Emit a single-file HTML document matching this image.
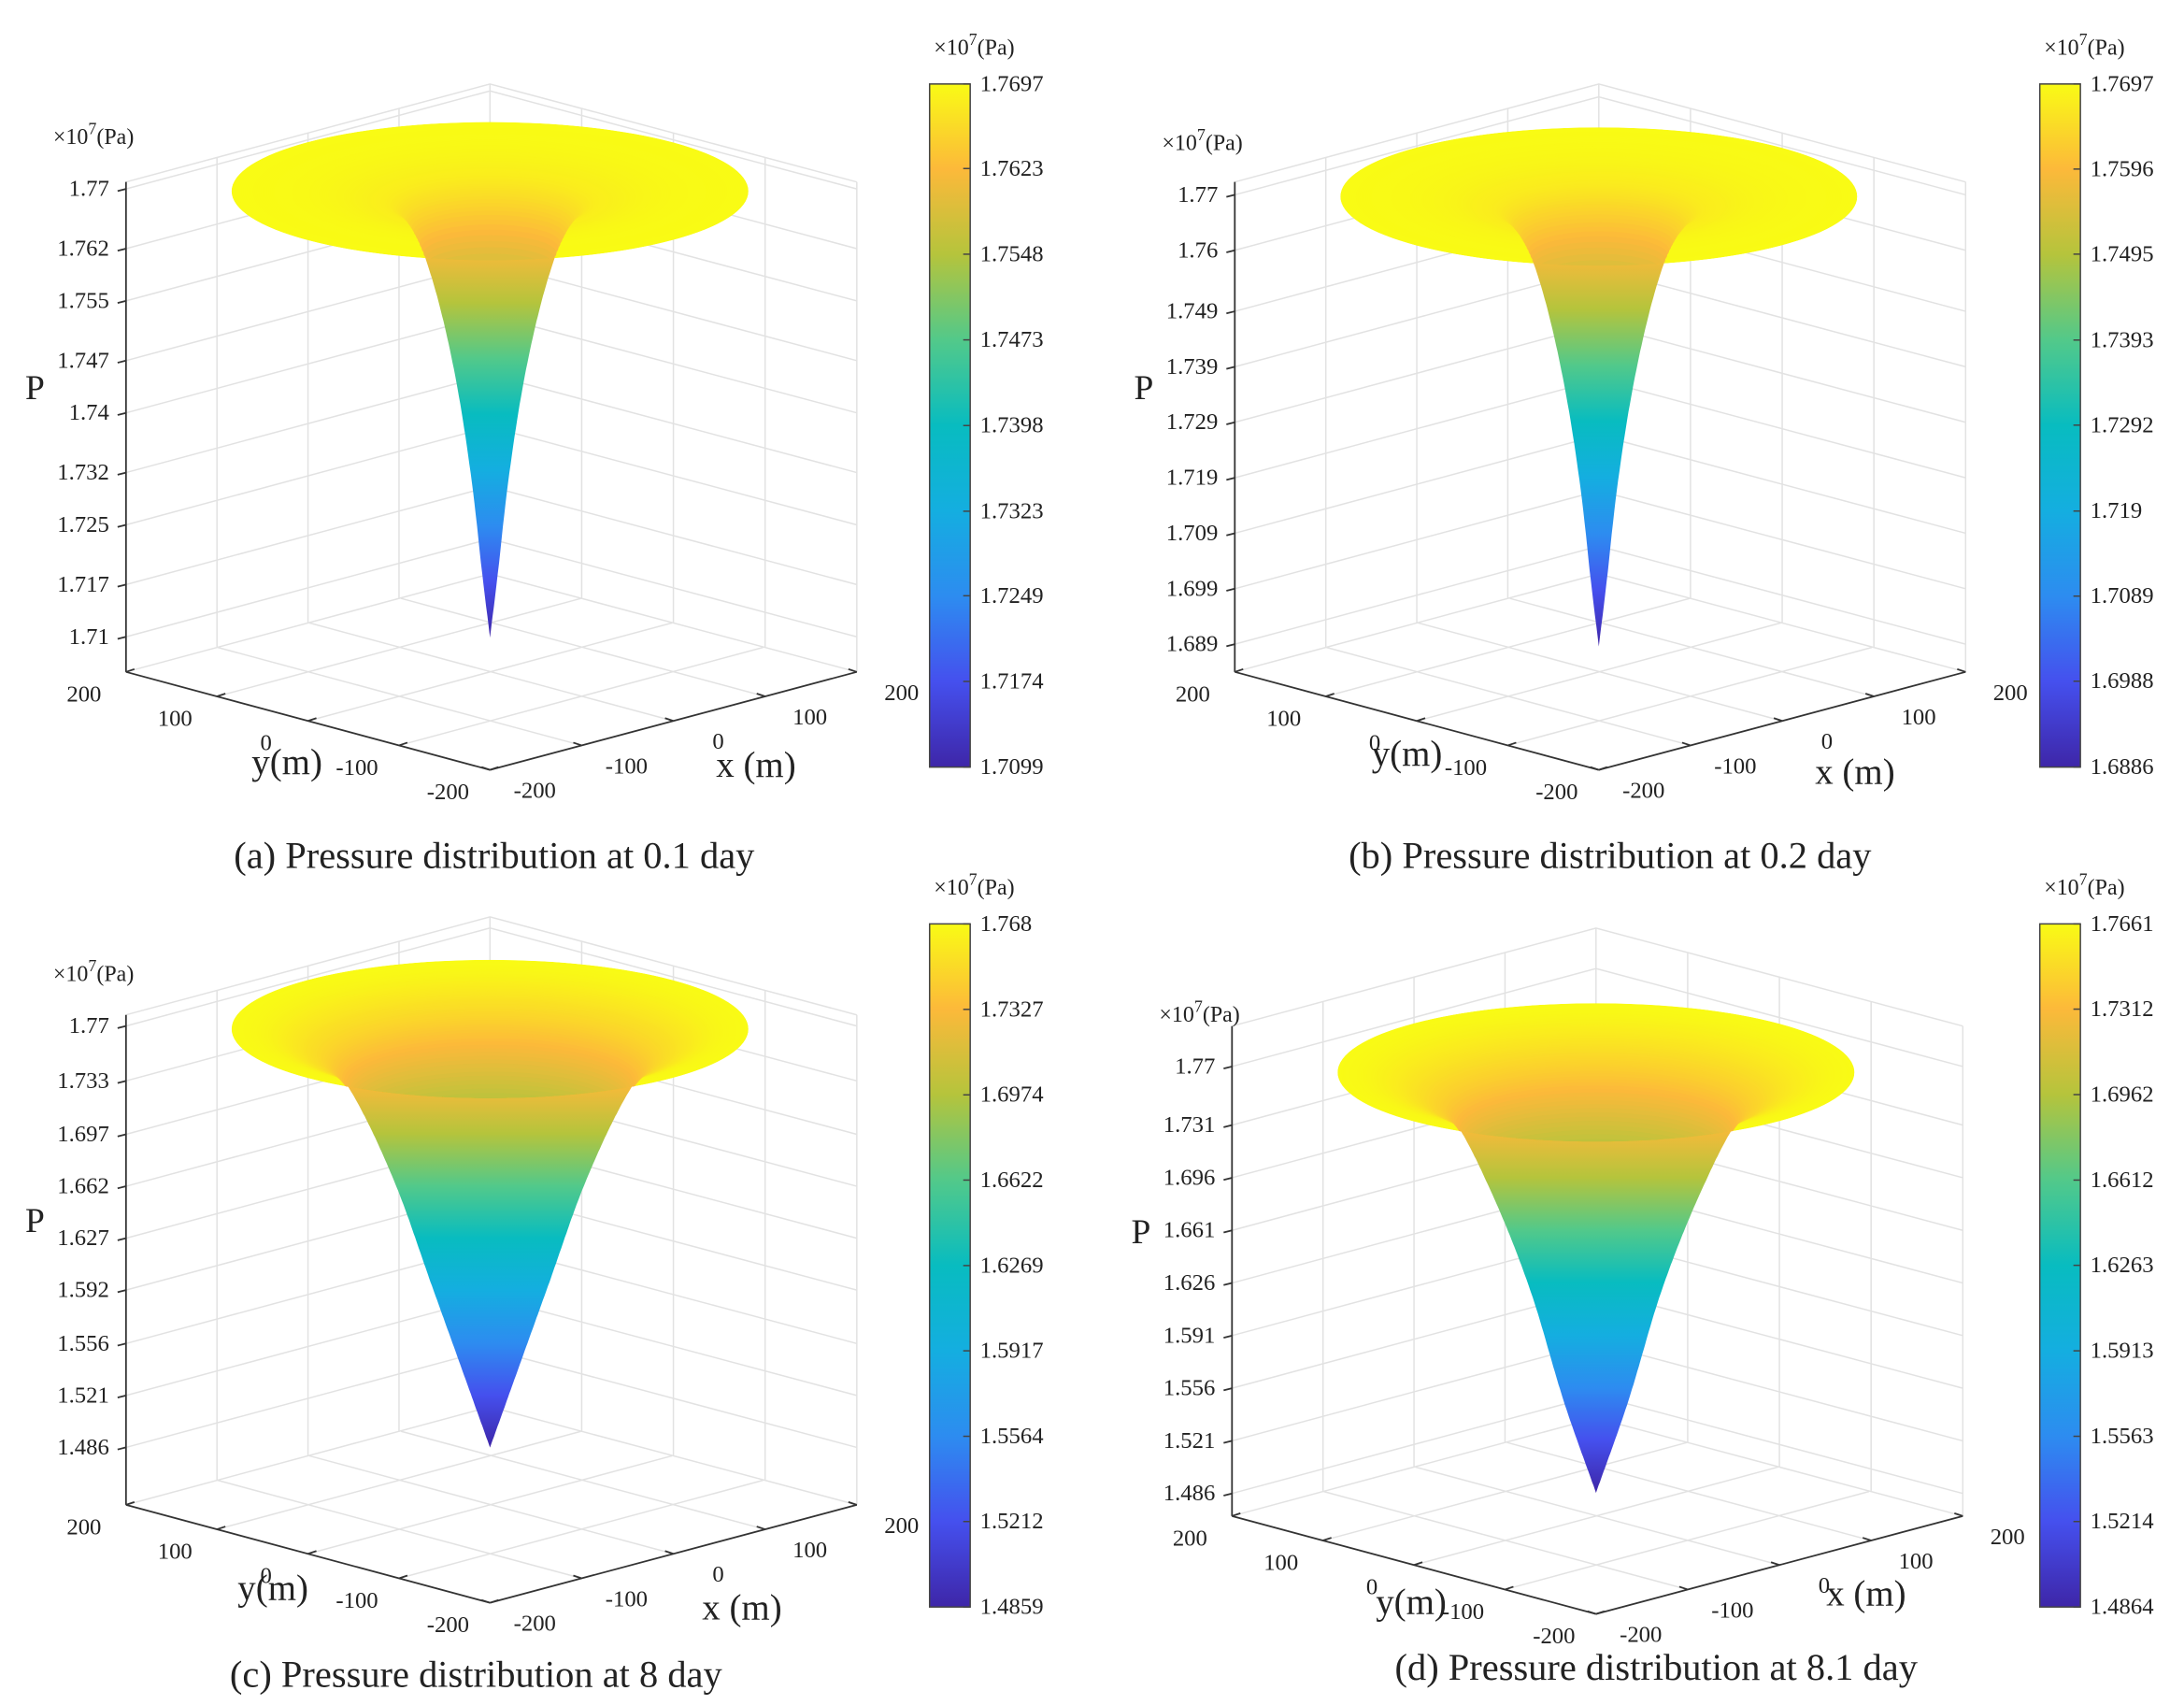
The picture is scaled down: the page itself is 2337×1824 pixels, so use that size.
<!DOCTYPE html>
<html><head><meta charset="utf-8">
<style>
html,body{margin:0;padding:0;background:#fff;}
svg{display:block;font-family:"Liberation Serif",serif;}
</style></head>
<body>
<svg id="fig" width="2337" height="1824" viewBox="0 0 1560 1218" preserveAspectRatio="none" xmlns="http://www.w3.org/2000/svg"></svg>
<script>
// ---- data ----
const captions = ["(a) Pressure distribution at 0.1 day","(b) Pressure distribution at 0.2 day","(c) Pressure distribution at 8 day","(d) Pressure distribution at 8.1 day"];
const zTicksA = [1.77,1.762,1.755,1.747,1.74,1.732,1.725,1.717,1.71];
const zTicksB = [1.77,1.76,1.749,1.739,1.729,1.719,1.709,1.699,1.689];
const zTicksC = [1.77,1.733,1.697,1.662,1.627,1.592,1.556,1.521,1.486];
const zTicksD = [1.77,1.731,1.696,1.661,1.626,1.591,1.556,1.521,1.486];
const cbTicksA = [1.7697,1.7623,1.7548,1.7473,1.7398,1.7323,1.7249,1.7174,1.7099];
const cbTicksB = [1.7697,1.7596,1.7495,1.7393,1.7292,1.719,1.7089,1.6988,1.6886];
const cbTicksC = [1.768,1.7327,1.6974,1.6622,1.6269,1.5917,1.5564,1.5212,1.4859];
const cbTicksD = [1.7661,1.7312,1.6962,1.6612,1.6263,1.5913,1.5563,1.5214,1.4864];
const radiusA = [0,6,13,26,49,70,100,140,200];
const pressA  = [1.7099,1.7184,1.7293,1.7441,1.7602,1.7670,1.7686,1.7694,1.7697];
const radiusB = [0,6,13,26,49,70,100,140,200];
const pressB  = [1.6886,1.7001,1.7150,1.7348,1.7567,1.7656,1.7681,1.7692,1.7697];
const radiusC = [0,30,45,73,109,125,150,175,200];
const pressC  = [1.4859,1.5587,1.595,1.663,1.728,1.745,1.757,1.765,1.768];
const radiusD = [0,25,50,83,112,130,155,180,200];
const pressD  = [1.4864,1.5475,1.619,1.6902,1.7366,1.748,1.758,1.764,1.7661];
const xyTicks = [200,100,0,-100,-200];

// ---- layout (not data) ----
const panels = [
 {cx:350, baseY:480, zFloor:1.7053, kz:5333, zt:zTicksA, cb:cbTicksA, r:radiusA, p:pressA, cbx:664, cby:60, cap:[353,620], yl:[205,553], xl:[540,555]},
 {cx:1142, baseY:480, zFloor:1.684, kz:3963, zt:zTicksB, cb:cbTicksB, r:radiusB, p:pressB, cbx:1457, cby:60, cap:[1150,620], yl:[1005,547], xl:[1325,560]},
 {cx:350, baseY:1075, zFloor:1.4473, kz:1060, zt:zTicksC, cb:cbTicksC, r:radiusC, p:pressC, cbx:664, cby:660, cap:[340,1205], yl:[195,1143], xl:[530,1157]},
 {cx:1140, baseY:1083, zFloor:1.471, kz:1074, zt:zTicksD, cb:cbTicksD, r:radiusD, p:pressD, cbx:1457, cby:660, cap:[1183,1200], yl:[1008,1153], xl:[1333,1147]}
];
const parula = [[0,"#3e26a8"],[0.125,"#4550ee"],[0.25,"#2d8cf0"],[0.375,"#14aee0"],[0.5,"#08bcc0"],[0.625,"#52c98a"],[0.75,"#b5c43c"],[0.875,"#fcb93a"],[1,"#f9fb15"]];
function hex(h){return [1,3,5].map(i=>parseInt(h.substr(i,2),16));}
function pcol(t){t=Math.max(0,Math.min(1,t));for(let i=1;i<parula.length;i++){if(t<=parula[i][0]){const a=parula[i-1],b=parula[i];const f=(t-a[0])/(b[0]-a[0]);const ca=hex(a[1]),cb=hex(b[1]);return "rgb("+ca.map((v,k)=>Math.round(v+(cb[k]-v)*f)).join(",")+")";}}return parula[parula.length-1][1];}

const NS="http://www.w3.org/2000/svg";
const svg=document.getElementById('fig');
function el(tag,attrs,parent){const e=document.createElementNS(NS,tag);for(const k in attrs)e.setAttribute(k,attrs[k]);(parent||svg).appendChild(e);return e;}
const defs=el('defs',{});
function txt(x,y,s,size,anchor,parent){const t=el('text',{x:x,y:y,'font-size':size,'text-anchor':anchor||'middle',fill:'#222'},parent);t.textContent=s;return t;}
function makeInterp(xs,ys){
  const n=xs.length,d=[],m=new Array(n);
  for(let i=0;i<n-1;i++)d.push((ys[i+1]-ys[i])/(xs[i+1]-xs[i]));
  m[0]=d[0];m[n-1]=d[n-2];
  for(let i=1;i<n-1;i++){m[i]=(d[i-1]*d[i]<=0)?0:(d[i-1]+d[i])/2;}
  for(let i=0;i<n-1;i++){if(d[i]===0){m[i]=m[i+1]=0;continue;}const a=m[i]/d[i],b=m[i+1]/d[i],s=a*a+b*b;if(s>9){const t=3/Math.sqrt(s);m[i]=t*a*d[i];m[i+1]=t*b*d[i];}}
  return x=>{let i=0;while(i<n-2&&x>xs[i+1])i++;const h=xs[i+1]-xs[i],t=(x-xs[i])/h,t2=t*t,t3=t2*t;
    return (2*t3-3*t2+1)*ys[i]+(t3-2*t2+t)*h*m[i]+(-2*t3+3*t2)*ys[i+1]+(t3-t2)*h*m[i+1];};
}

panels.forEach((P,pi)=>{
  const g=el('g',{});
  
  
  const cbMax=P.cb[0], cbMin=P.cb[P.cb.length-1];
  const zy=p=>P.baseY-(p-P.zFloor)*P.kz;
  const L=[P.cx-260,P.baseY],R=[P.cx+262,P.baseY],F=[P.cx,P.baseY+70],B=[P.cx,P.baseY-70];
  const H=350;
  const lerp=(a,b,t)=>[a[0]+(b[0]-a[0])*t,a[1]+(b[1]-a[1])*t];
  const grid=el('g',{stroke:'#e2e2e2','stroke-width':1,fill:'none'},g);
  
  
  P.zt.forEach(v=>{const dy=P.baseY-zy(v);
    el('polyline',{points:`${L[0]},${L[1]-dy} ${B[0]},${B[1]-dy} ${R[0]},${R[1]-dy}`},grid);});
  [0.25,0.5,0.75].forEach(t=>{
    const a=lerp(L,B,t),b=lerp(B,R,t);
    el('line',{x1:a[0],y1:a[1],x2:a[0],y2:a[1]-H},grid);
    el('line',{x1:b[0],y1:b[1],x2:b[0],y2:b[1]-H},grid);
    const c=lerp(L,F,t),d=lerp(F,R,t);
    el('line',{x1:c[0],y1:c[1],x2:c[0]+(B[0]-L[0]),y2:c[1]+(B[1]-L[1])},grid);
    el('line',{x1:d[0],y1:d[1],x2:d[0]-(F[0]-L[0]),y2:d[1]-(F[1]-L[1])},grid);
  });
  el('polyline',{points:`${L[0]},${L[1]-H} ${B[0]},${B[1]-H} ${R[0]},${R[1]-H}`},grid);
  el('line',{x1:B[0],y1:B[1],x2:B[0],y2:B[1]-H},grid);
  el('line',{x1:R[0],y1:R[1],x2:R[0],y2:R[1]-H},grid);
  el('polyline',{points:`${L[0]},${L[1]} ${B[0]},${B[1]} ${R[0]},${R[1]}`},grid);
  const ax=el('g',{stroke:'#333','stroke-width':1.2,fill:'none'},g);
  
  
  el('line',{x1:L[0],y1:L[1],x2:L[0],y2:L[1]-H},ax);
  el('line',{x1:L[0],y1:L[1],x2:F[0],y2:F[1]},ax);
  el('line',{x1:F[0],y1:F[1],x2:R[0],y2:R[1]},ax);
  P.zt.forEach(v=>{const y=zy(v);el('line',{x1:L[0]-6,y1:y+1.5,x2:L[0],y2:y},ax);
    const t=txt(L[0]-12,y+5,String(v),16.5,'end',g);
    
    });
  xyTicks.forEach((v,i)=>{const t=i/4;
    const a=lerp(L,F,t);el('line',{x1:a[0],y1:a[1],x2:a[0]+6,y2:a[1]-2},ax);
    const ty=txt(a[0]-30,a[1]+21,String(v),16.5,'middle',g);
    
    
    const b=lerp(F,R,t);el('line',{x1:b[0],y1:b[1],x2:b[0]-6,y2:b[1]-2},ax);
    const tx=txt(b[0]+32,b[1]+20,String(xyTicks[4-i]),16.5,'middle',g);
    
    });
  const f=makeInterp(P.r,P.p);
  const rMax=P.r[P.r.length-1];
  const pTop=P.p[P.p.length-1];
  const gid='fg'+pi;
  const lg=el('linearGradient',{id:gid,gradientUnits:'userSpaceOnUse',x1:0,y1:zy(cbMin),x2:0,y2:zy(cbMax)},defs);
  parula.forEach(s=>el('stop',{offset:s[0],'stop-color':s[1]},lg));
  const left=[],right=[];
  for(let r=rMax;r>=0;r-=1){const y=zy(f(r));left.push([P.cx-0.923*r,y]);right.push([P.cx+0.923*r,y]);}
  const pts=left.concat(right.reverse()).map(q=>q[0].toFixed(1)+','+q[1].toFixed(1)).join(' ');
  const funnel=el('polygon',{points:pts,fill:`url(#${gid})`},g);
  
  
  const topY=zy(pTop);
  const cid='clip'+pi;
  const cp=el('clipPath',{id:cid},defs);
  el('ellipse',{cx:P.cx,cy:topY,rx:0.923*rMax,ry:0.247*rMax},cp);
  const disk=el('g',{'clip-path':`url(#${cid})`},g);
  
  
  for(let r=rMax;r>=0;r-=1.5){const p=f(r);
    el('ellipse',{cx:P.cx,cy:zy(p).toFixed(1),rx:(0.923*r).toFixed(1),ry:(0.247*r).toFixed(1),fill:pcol((p-cbMin)/(cbMax-cbMin))},disk);}
  const ex=txt(L[0]-52,zy(P.zt[0])-32,'',16,'start',g);
  ex.innerHTML='×10<tspan dy="-7" font-size="12">7</tspan><tspan dy="7">(Pa)</tspan>';
  
  
  const pl=txt(L[0]-65,P.baseY-195,'P',25,'middle',g);
  
  
  const yl=txt(P.yl[0],P.yl[1],'y(m)',26,'middle',g);
  
  
  const xl=txt(P.xl[0],P.xl[1],'x (m)',26,'middle',g);
  
  
  const cbH=488,cbW=29;
  const cg='cg'+pi;
  const cl=el('linearGradient',{id:cg,x1:0,y1:1,x2:0,y2:0},defs);
  parula.forEach(s=>el('stop',{offset:s[0],'stop-color':s[1]},cl));
  const cbar=el('rect',{x:P.cbx,y:P.cby,width:cbW,height:cbH,fill:`url(#${cg})`,stroke:'#444','stroke-width':1},g);
  
  
  P.cb.forEach(v=>{const y=P.cby+(cbMax-v)/(cbMax-cbMin)*cbH;
    el('line',{x1:P.cbx+cbW-5,y1:y,x2:P.cbx+cbW,y2:y,stroke:'#444'},g);
    const t=txt(P.cbx+36,y+5,String(v),16.5,'start',g);
    
    });
  const ce=txt(P.cbx+3,P.cby-21,'',16,'start',g);
  ce.innerHTML='×10<tspan dy="-7" font-size="12">7</tspan><tspan dy="7">(Pa)</tspan>';
  
  
  const cap=txt(P.cap[0],P.cap[1],captions[pi],27,'middle',g);
  
  
});
</script>
</body></html>
